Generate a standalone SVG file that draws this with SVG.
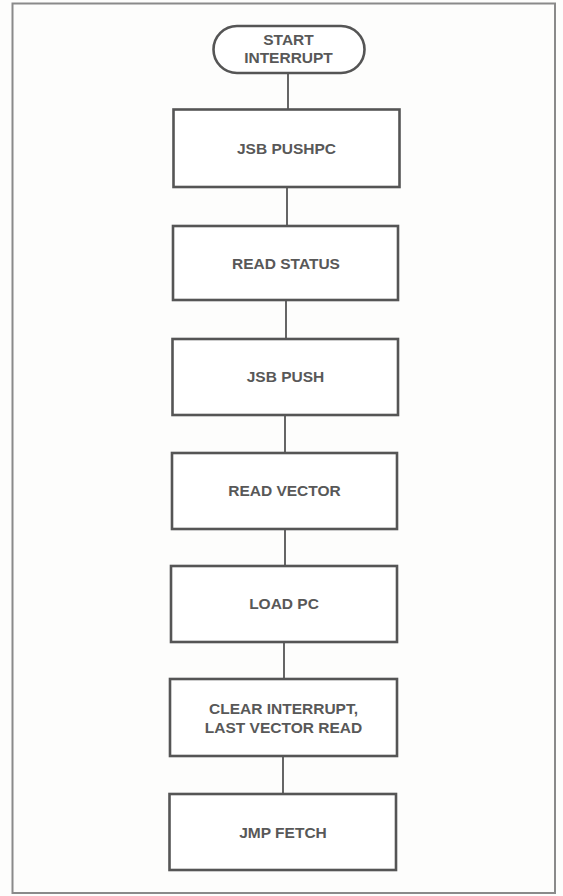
<svg xmlns="http://www.w3.org/2000/svg" width="563" height="896" viewBox="0 0 563 896">
<style>
.frame{fill:none;stroke:#8a8a8a;stroke-width:2}
.box{fill:#fff;stroke:#555;stroke-width:2.6}
.ln{stroke:#555;stroke-width:1.8;fill:none}
.t{font-family:"Liberation Sans",Arial,sans-serif;font-weight:bold;font-size:15.5px;fill:#585858;text-anchor:middle}
</style>
<rect x="0" y="0" width="563" height="896" fill="#fdfdfc"/>
<rect class="frame" x="12.5" y="3.5" width="542.5" height="889.5"/>
<g id="connectors">
<line class="ln" x1="288" y1="73" x2="288" y2="109"/>
<line class="ln" x1="287" y1="187" x2="287" y2="226"/>
<line class="ln" x1="286" y1="300" x2="286" y2="339"/>
<line class="ln" x1="285" y1="415" x2="285" y2="453"/>
<line class="ln" x1="285" y1="529" x2="285" y2="566"/>
<line class="ln" x1="284" y1="642" x2="284" y2="679"/>
<line class="ln" x1="283" y1="756" x2="283" y2="794"/>
</g>
<g id="start">
<rect class="box" x="213.5" y="26" width="151" height="47" rx="23.5"/>
<text class="t" x="288.5" y="45">START</text>
<text class="t" x="288.5" y="63">INTERRUPT</text>
</g>
<g id="jsb-pushpc">
<rect class="box" x="173.5" y="109.5" width="226" height="77.5"/>
<text class="t" x="286.5" y="154">JSB PUSHPC</text>
</g>
<g id="read-status">
<rect class="box" x="173" y="226" width="225" height="74"/>
<text class="t" x="286" y="269">READ STATUS</text>
</g>
<g id="jsb-push">
<rect class="box" x="172.5" y="339" width="225.5" height="76"/>
<text class="t" x="285.5" y="382">JSB PUSH</text>
</g>
<g id="read-vector">
<rect class="box" x="172" y="453" width="225" height="76"/>
<text class="t" x="284.5" y="496">READ VECTOR</text>
</g>
<g id="load-pc">
<rect class="box" x="171" y="566" width="226" height="76"/>
<text class="t" x="284" y="609">LOAD PC</text>
</g>
<g id="clear-interrupt">
<rect class="box" x="170" y="679" width="227" height="77"/>
<text class="t" x="283.5" y="714">CLEAR INTERRUPT,</text>
<text class="t" x="283.5" y="733">LAST VECTOR READ</text>
</g>
<g id="jmp-fetch">
<rect class="box" x="169.5" y="794" width="226.5" height="76"/>
<text class="t" x="283" y="838">JMP FETCH</text>
</g>
</svg>
